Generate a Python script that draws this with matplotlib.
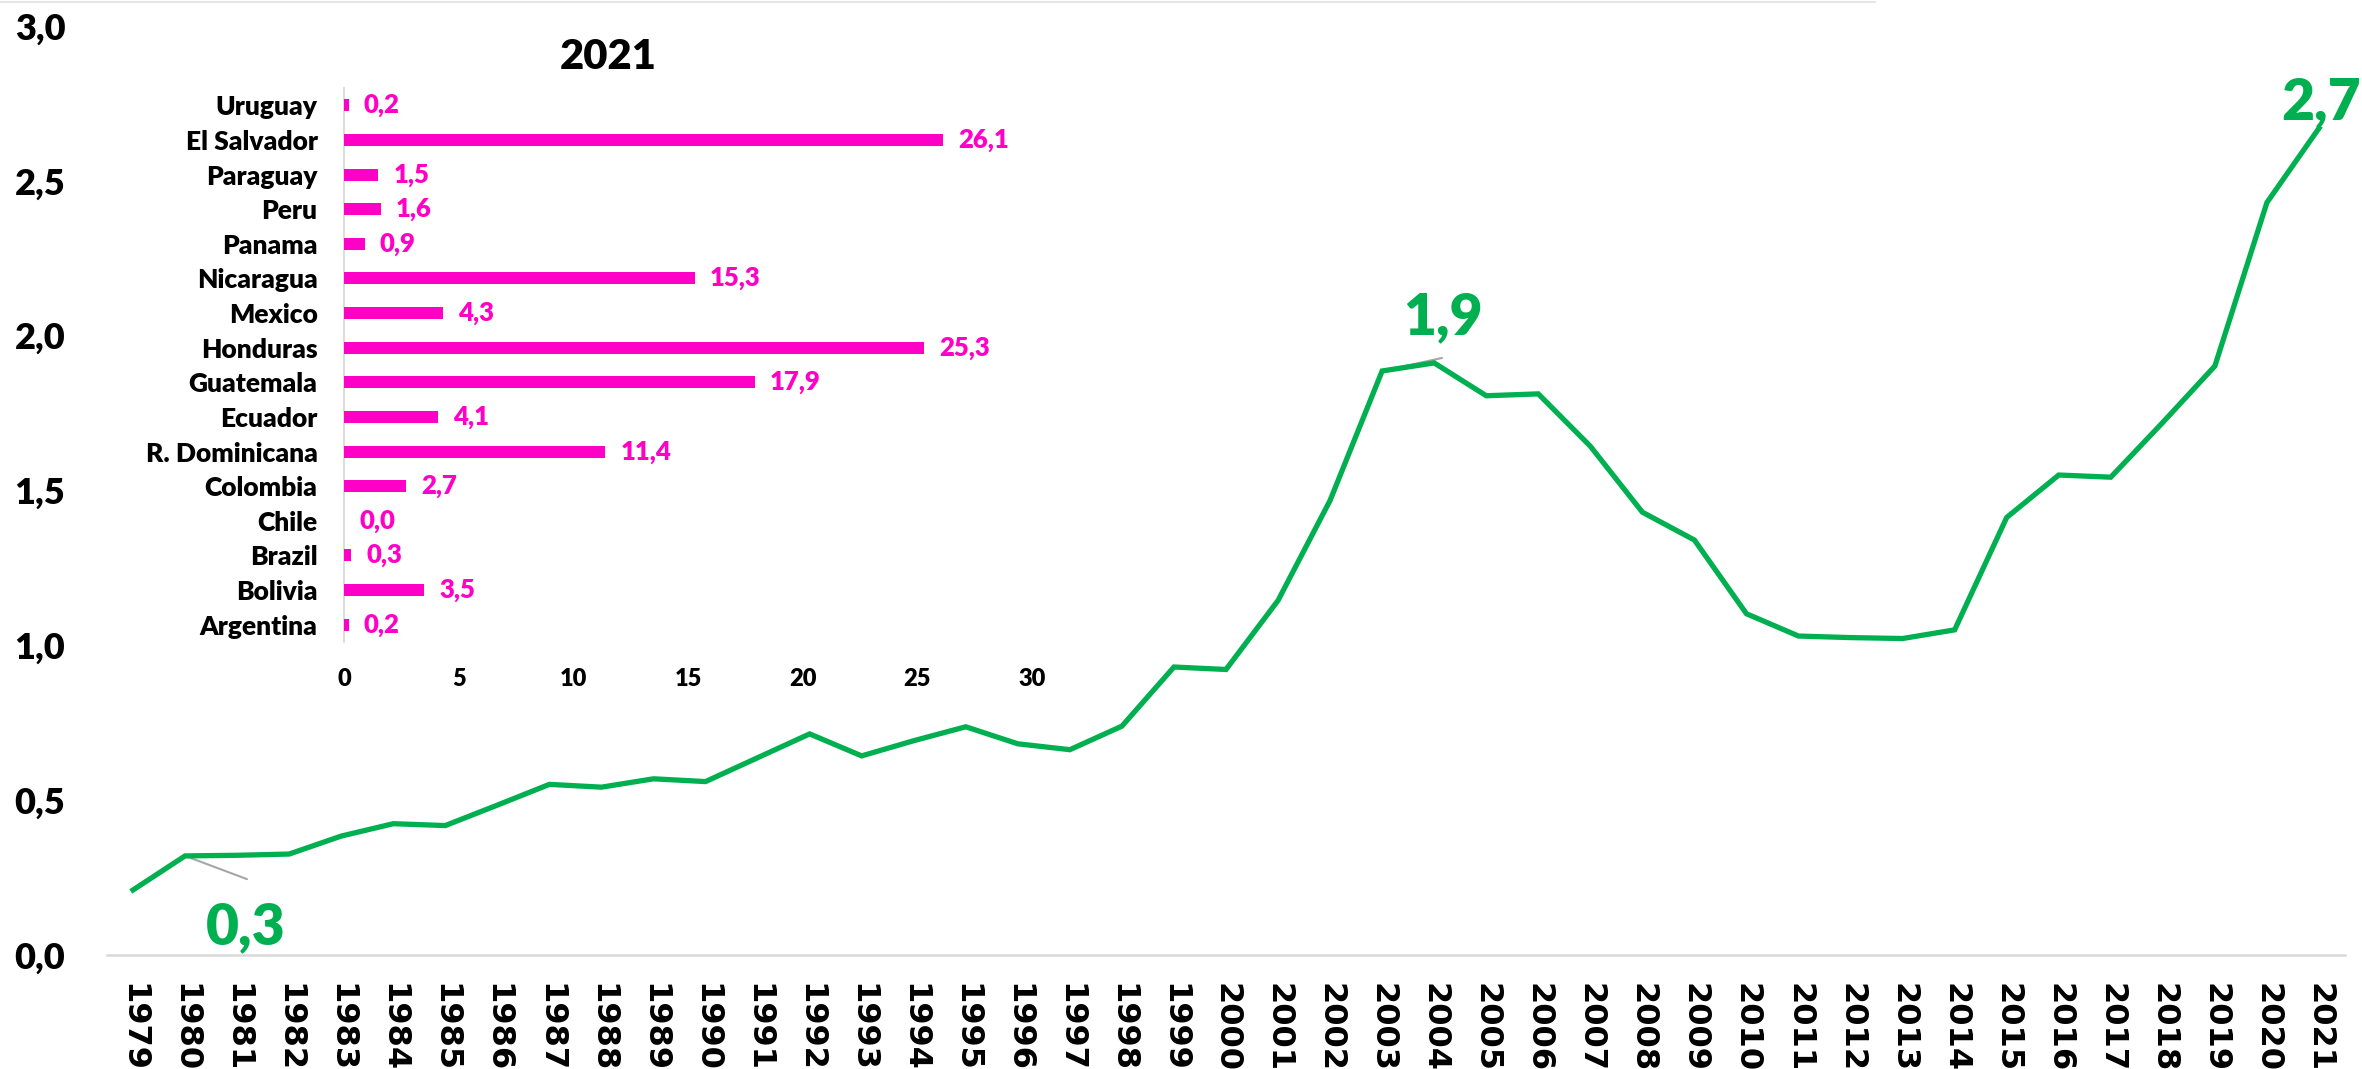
import matplotlib
matplotlib.use("Agg")
import matplotlib.pyplot as plt
from matplotlib.lines import Line2D

# ---------------- data ----------------
years = ["1979", "1980", "1981", "1982", "1983", "1984", "1985", "1986", "1987", "1988",
         "1989", "1990", "1991", "1992", "1993", "1994", "1995", "1996", "1997", "1998",
         "1999", "2000", "2001", "2002", "2003", "2004", "2005", "2006", "2007", "2008",
         "2009", "2010", "2011", "2012", "2013", "2014", "2015", "2016", "2017", "2018",
         "2019", "2020", "2021"]
values = [0.21, 0.32, 0.322, 0.326, 0.384, 0.424, 0.418, 0.484, 0.551, 0.542,
          0.569, 0.56, 0.637, 0.714, 0.643, 0.692, 0.737, 0.682, 0.663, 0.739,
          0.93, 0.922, 1.145, 1.468, 1.886, 1.912, 1.806, 1.812, 1.643, 1.43,
          1.34, 1.102, 1.03, 1.025, 1.022, 1.05, 1.413, 1.55, 1.543, 1.72,
          1.902, 2.43, 2.67]
y_ticks = [0.0, 0.5, 1.0, 1.5, 2.0, 2.5, 3.0]
y_tick_labels = ["0,0", "0,5", "1,0", "1,5", "2,0", "2,5", "3,0"]

callout_texts = ["0,3", "1,9", "2,7"]
callout_points = [1, 24, 42]

countries = ["Argentina", "Bolivia", "Brazil", "Chile", "Colombia", "R. Dominicana",
             "Ecuador", "Guatemala", "Honduras", "Mexico", "Nicaragua", "Panama",
             "Peru", "Paraguay", "El Salvador", "Uruguay"]
country_values = [0.2, 3.5, 0.3, 0.0, 2.7, 11.4, 4.1, 17.9, 25.3, 4.3, 15.3, 0.9,
                  1.6, 1.5, 26.1, 0.2]
inset_xticks = [0, 5, 10, 15, 20, 25, 30]
inset_title = "2021"

# ---------------- style ----------------
GREEN = "#00B050"
MAGENTA = "#FF00C6"
GRID = "#D9D9D9"
FONT = ["Lato", "DejaVu Sans"]
WEIGHT = "heavy"
plt.rcParams["font.family"] = FONT

W, H = 2362, 1069
fig = plt.figure(figsize=(W / 100, H / 100), dpi=100)

# ---------------- main axes ----------------
left, right = 107, 2345
bottom, top = 955, 26
ax = fig.add_axes([left / W, 1 - bottom / H, (right - left) / W, (bottom - top) / H])
x = list(range(len(years)))
ax.plot(x, values, color=GREEN, lw=3.8, solid_joinstyle="miter", zorder=3)
ax.set_xlim(-0.5, len(years) - 0.5)
ax.set_ylim(0, 3.0)
ax.set_xticks(x)
ax.set_xticklabels(years, rotation=270, fontsize=23, fontweight="bold",
                   family=["DejaVu Sans"])
ax.set_yticks(y_ticks)
ax.set_yticklabels(y_tick_labels, fontsize=26, fontweight=WEIGHT)
ax.tick_params(axis="both", length=0)
ax.tick_params(axis="x", pad=20)
ax.tick_params(axis="y", pad=30)
for s in ["top", "right", "left"]:
    ax.spines[s].set_visible(False)
ax.spines["bottom"].set_color(GRID)
ax.spines["bottom"].set_linewidth(1.8)
ax.set_facecolor("none")

# callouts
text_pos = [(2.17, 0.09), (25.17, 2.06), (42.04, 2.754)]
leader_end = [(2.19, 0.245), (25.15, 1.928), None]
for t, pi, tp, le in zip(callout_texts, callout_points, text_pos, leader_end):
    if le is not None:
        ax.annotate("", xy=(pi, values[pi]), xytext=le,
                    arrowprops=dict(arrowstyle="-", color="#A6A6A6", lw=1.5,
                                    shrinkA=0, shrinkB=0), zorder=2)
    ax.text(tp[0], tp[1], t, color=GREEN, fontsize=41, fontweight=WEIGHT,
            ha="center", va="center", clip_on=False, zorder=4)

# ---------------- inset bar chart ----------------
il, ir = 344, 1032
it, ib = 88, 642
ax2 = fig.add_axes([il / W, 1 - ib / H, (ir - il) / W, (ib - it) / H])
ypos = list(range(len(countries)))
ax2.barh(ypos, country_values, height=0.35, color=MAGENTA, zorder=3)
ax2.set_xlim(0, 30)
ax2.set_ylim(-0.5, len(countries) - 0.5)
ax2.set_yticks(ypos)
ax2.set_yticklabels(countries, fontsize=19, fontweight=WEIGHT)
ax2.set_xticks(inset_xticks)
ax2.set_xticklabels([str(v) for v in inset_xticks], fontsize=17, fontweight=WEIGHT)
ax2.tick_params(axis="both", length=0)
ax2.tick_params(axis="y", pad=19)
ax2.tick_params(axis="x", pad=19)
for s in ["top", "right", "bottom"]:
    ax2.spines[s].set_visible(False)
ax2.spines["left"].set_color(GRID)
ax2.spines["left"].set_linewidth(1.3)
ax2.set_facecolor("none")
for yy, v in zip(ypos, country_values):
    ax2.annotate(f"{v:.1f}".replace(".", ","), xy=(v, yy), xytext=(11, 0),
                 textcoords="offset points", ha="left", va="center",
                 color=MAGENTA, fontsize=18.5, fontweight=WEIGHT)

fig.text(608 / W, 1 - 57 / H, inset_title, fontsize=30, fontweight=WEIGHT,
         ha="center", va="center")

# faint top border
fig.add_artist(Line2D([0, 1875 / W], [1 - 1.5 / H, 1 - 1.5 / H],
                      transform=fig.transFigure, color="#E6E6E6", lw=1.5))

fig.savefig("out.png", dpi=100, facecolor="white")
